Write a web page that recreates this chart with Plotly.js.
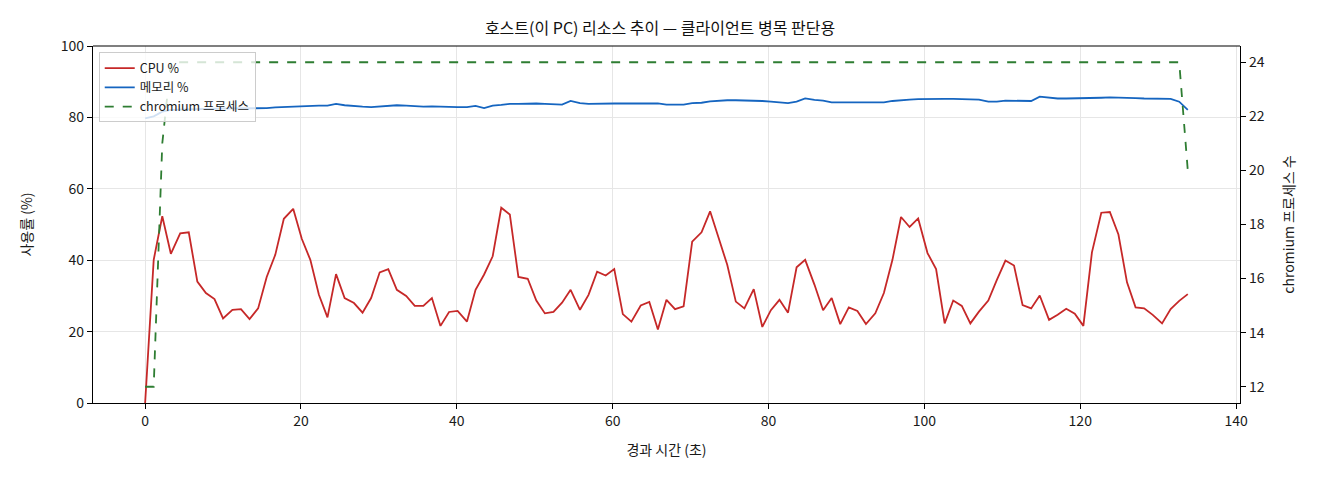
<!DOCTYPE html>
<html>
<head>
<meta charset="utf-8">
<script src="https://cdn.plot.ly/plotly-3.0.1.min.js"></script>
<style>
  html, body { margin: 0; padding: 0; background: #fff; }
  #chart { width: 1320px; height: 480px; }
</style>
</head>
<body>
<div id="chart"></div>
<script>
"use strict"

// elapsed time (s) per sample
const times = [
  0, 1.1, 2.2, 3.3, 4.5, 5.6, 6.7, 7.8, 8.9, 10.0,
  11.2, 12.3, 13.4, 14.5, 15.6, 16.7, 17.8, 19.0, 20.1, 21.2,
  22.3, 23.4, 24.5, 25.6, 26.8, 27.9, 29.0, 30.1, 31.2, 32.3,
  33.5, 34.6, 35.7, 36.8, 37.9, 39.0, 40.1, 41.3, 42.4, 43.5,
  44.6, 45.7, 46.8, 47.9, 49.1, 50.2, 51.3, 52.4, 53.5, 54.6,
  55.8, 56.9, 58.0, 59.1, 60.2, 61.3, 62.4, 63.6, 64.7, 65.8,
  66.9, 68.0, 69.1, 70.2, 71.4, 72.5, 73.6, 74.7, 75.8, 76.9,
  78.1, 79.2, 80.3, 81.4, 82.5, 83.6, 84.7, 85.9, 87.0, 88.1,
  89.2, 90.3, 91.4, 92.5, 93.7, 94.8, 95.9, 97.0, 98.1, 99.2,
  100.4, 101.5, 102.6, 103.7, 104.8, 105.9, 107.0, 108.2, 109.3, 110.4,
  111.5, 112.6, 113.7, 114.8, 116.0, 117.1, 118.2, 119.3, 120.4, 121.5,
  122.7, 123.8, 124.9, 126.0, 127.1, 128.2, 129.3, 130.5, 131.6, 132.7,
  133.8
]

const cpu = [
  0, 40.1, 52.3, 41.8, 47.5, 47.8, 34.0, 30.8, 29.1, 23.7,
  26.1, 26.3, 23.5, 26.5, 35.3, 41.5, 51.6, 54.4, 46.0, 40.1,
  30.3, 24.0, 36.1, 29.4, 28.0, 25.3, 29.4, 36.6, 37.5, 31.7,
  30.0, 27.2, 27.2, 29.4, 21.6, 25.5, 25.8, 22.8, 31.7, 36.0,
  41.1, 54.7, 52.8, 35.3, 34.8, 28.7, 25.1, 25.5, 28.1, 31.7,
  26.1, 30.3, 36.8, 35.7, 37.5, 24.9, 22.8, 27.3, 28.3, 20.6,
  28.9, 26.3, 27.1, 45.2, 47.8, 53.7, 46.2, 38.7, 28.4, 26.5,
  31.9, 21.3, 26.0, 28.9, 25.3, 38.0, 40.1, 33.1, 26.0, 29.4,
  22.1, 26.8, 25.8, 22.1, 25.1, 30.8, 40.1, 52.1, 49.3, 51.7,
  42.0, 37.5, 22.3, 28.7, 27.2, 22.3, 25.6, 28.7, 34.5, 39.9,
  38.5, 27.4, 26.5, 30.1, 23.3, 24.7, 26.4, 25.0, 21.6, 42.2,
  53.3, 53.5, 47.2, 33.8, 26.8, 26.5, 24.7, 22.3, 26.3, 28.6,
  30.5
]

const mem = [
  79.7, 80.3, 81.6, 82.1, 82.2, 82.3, 82.3, 82.4, 82.4, 82.5,
  82.5, 82.5, 82.5, 82.5, 82.6, 82.8, 82.9, 83.1, 83.3, 83.4,
  83.3, 83.3, 83.8, 83.4, 83.1, 83.0, 82.9, 83.1, 83.4, 83.4,
  83.3, 83.1, 83.0, 83.1, 83.0, 83.0, 82.9, 82.9, 83.2, 82.6,
  83.3, 83.5, 83.8, 83.8, 83.9, 83.9, 83.8, 83.7, 83.6, 84.6,
  84.0, 83.8, 83.9, 83.9, 83.9, 83.9, 83.9, 83.9, 83.9, 83.9,
  83.6, 83.5, 83.6, 84.0, 84.1, 84.5, 84.7, 84.8, 84.8, 84.8,
  84.7, 84.6, 84.4, 84.2, 84.0, 84.4, 85.3, 84.9, 84.7, 84.2,
  84.2, 84.2, 84.2, 84.2, 84.2, 84.2, 84.6, 84.9, 85.0, 85.1,
  85.2, 85.2, 85.2, 85.2, 85.2, 85.1, 85.0, 84.4, 84.4, 84.7,
  84.7, 84.7, 84.6, 85.8, 85.5, 85.3, 85.3, 85.3, 85.4, 85.5,
  85.5, 85.6, 85.6, 85.6, 85.4, 85.3, 85.3, 85.3, 85.2, 84.4,
  82.1
]

const procs = [
  12, 12, 21, 24, 24, 24, 24, 24, 24, 24,
  24, 24, 24, 24, 24, 24, 24, 24, 24, 24,
  24, 24, 24, 24, 24, 24, 24, 24, 24, 24,
  24, 24, 24, 24, 24, 24, 24, 24, 24, 24,
  24, 24, 24, 24, 24, 24, 24, 24, 24, 24,
  24, 24, 24, 24, 24, 24, 24, 24, 24, 24,
  24, 24, 24, 24, 24, 24, 24, 24, 24, 24,
  24, 24, 24, 24, 24, 24, 24, 24, 24, 24,
  24, 24, 24, 24, 24, 24, 24, 24, 24, 24,
  24, 24, 24, 24, 24, 24, 24, 24, 24, 24,
  24, 24, 24, 24, 24, 24, 24, 24, 24, 24,
  24, 24, 24, 24, 24, 24, 24, 24, 24, 24,
  20
]

const seriesNames = ["CPU %", "메모리 %", "chromium 프로세스"]
const xTicks = [0, 20, 40, 60, 80, 100, 120, 140]
const yTicks = [0, 20, 40, 60, 80, 100]
const y2Ticks = [12, 14, 16, 18, 20, 22, 24]

const FONT = "'Noto Sans CJK KR', 'Noto Sans', sans-serif"

const data = [
  {
    x: times, y: cpu, name: seriesNames[0],
    type: "scatter", mode: "lines",
    line: {color: "#c62828", width: 1.8},
  },
  {
    x: times, y: mem, name: seriesNames[1],
    type: "scatter", mode: "lines",
    line: {color: "#1565c0", width: 1.8},
  },
  {
    x: times, y: procs, name: seriesNames[2], yaxis: "y2",
    type: "scatter", mode: "lines",
    line: {color: "#2e7d32", width: 1.8, dash: "dash"},
  },
]

const axisBase = {
  showline: true, linecolor: "#000", linewidth: 1.2,
  ticks: "outside", ticklen: 5, tickwidth: 1, tickcolor: "#000",
  tickfont: {size: 14, color: "#1a1a1a"},
  zeroline: false,
}

const layout = {
  width: 1320, height: 480,
  margin: {l: 93, r: 80, t: 46, b: 77, pad: 0},
  paper_bgcolor: "#fff", plot_bgcolor: "#fff",
  font: {family: FONT, color: "#1a1a1a"},
  title: {
    text: "호스트(이 PC) 리소스 추이 — 클라이언트 병목 판단용",
    font: {size: 16, color: "#111"},
    x: 0.5, xanchor: "center", y: 0.94, yanchor: "middle",
  },
  showlegend: true,
  legend: {
    x: 0.005, y: 0.982, xanchor: "left", yanchor: "top",
    bgcolor: "rgba(255,255,255,0.8)", bordercolor: "#ccc", borderwidth: 1,
    font: {size: 12.5, color: "#1a1a1a"},
    tracegroupgap: 0,
  },
  xaxis: Object.assign({}, axisBase, {
    range: [-6.69, 140.5],
    tickvals: xTicks,
    showgrid: true, gridcolor: "#e6e6e6", gridwidth: 1,
    title: {text: "경과 시간 (초)", font: {size: 14}, standoff: 16},
  }),
  yaxis: Object.assign({}, axisBase, {
    range: [0, 100],
    tickvals: yTicks,
    showgrid: true, gridcolor: "#e6e6e6", gridwidth: 1,
    title: {text: "사용률 (%)", font: {size: 14}, standoff: 24},
  }),
  yaxis2: Object.assign({}, axisBase, {
    overlaying: "y", side: "right",
    range: [11.4, 24.6],
    tickvals: y2Ticks,
    showgrid: false,
    title: {text: "chromium 프로세스 수", font: {size: 14}, standoff: 20},
  }),
  // top edge of the axes frame
  shapes: [{
    type: "line", xref: "paper", yref: "paper",
    x0: 0, x1: 1, y0: 1, y1: 1,
    line: {color: "#000", width: 1.2},
  }],
}

Plotly.newPlot("chart", data, layout, {displayModeBar: false, staticPlot: true})
</script>
</body>
</html>
